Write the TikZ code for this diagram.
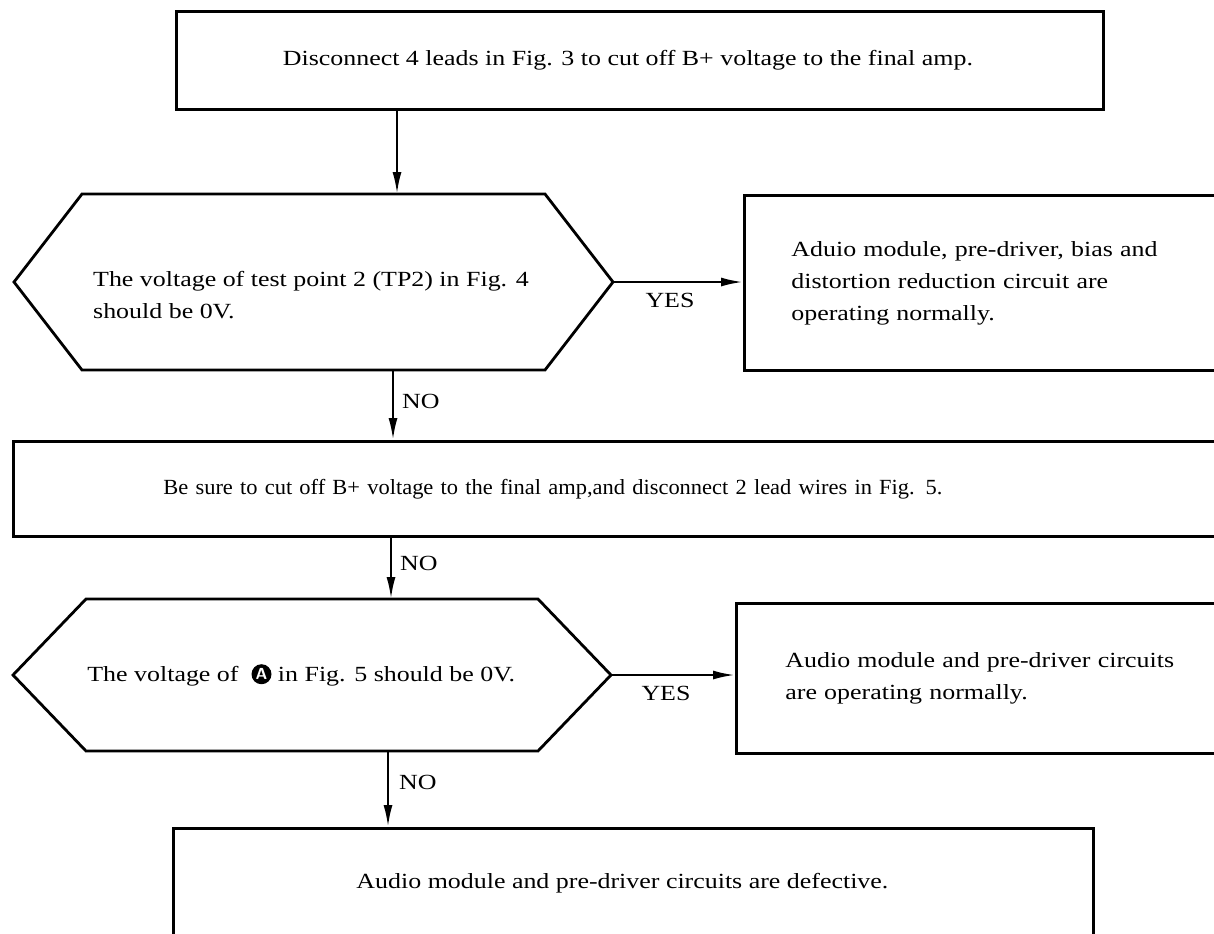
\documentclass[tikz,border=0pt]{standalone}
\usepackage{fontspec}
\setmainfont[FakeStretch=1.2]{Liberation Serif}
\newfontfamily\narrowfont[FakeStretch=1.04]{Liberation Serif}
\usepackage{tikz}
\usetikzlibrary{calc, arrows.meta, positioning}

\newcommand{\markA}{\tikz[baseline=-0.7ex]\node[circle,fill=black,text=white,inner sep=0pt,minimum size=10pt,font=\sffamily\bfseries\footnotesize]{A};}

\begin{document}
\begin{tikzpicture}[->,>={Latex[length=11pt,width=4.5pt]},x=0.5pt,y=-0.5pt,
        line width=1.2pt,font=\fontsize{10.8}{16}\selectfont]
        \tikzstyle{box}=[draw=black,line width=1.4pt,anchor=north west,align=left]
        \tikzstyle{answer}=[inner sep=0pt]
        \useasboundingbox (0,0) rectangle (1214,933);

        % boxes
        \node[box,align=center,minimum width=463.5pt,minimum height=49pt](b1) at (175,10)
            {Disconnect 4 leads in Fig. 3 to cut off B+ voltage to the final amp.\hspace*{12pt}};
        \node[box,inner xsep=23.5pt,text width=193pt,minimum height=87.5pt](b2) at (743,194)
            {Aduio module, pre-driver, bias and\\distortion reduction circuit are\\operating normally.};
        \node[box,inner xsep=75pt,text width=455.5pt,minimum height=47.5pt,
            font=\narrowfont\fontsize{10.8}{16}\selectfont](b3) at (12,440)
            {Be sure to cut off B+ voltage to the final amp,and disconnect 2 lead wires in Fig. 5.};
        \node[box,inner xsep=24.5pt,text width=195pt,minimum height=75pt](b4) at (735,602)
            {Audio module and pre-driver circuits\\are operating normally.};
        \node[box,align=center,minimum width=460pt,minimum height=55pt](b5) at (172,827)
            {Audio module and pre-driver circuits are defective.\hspace*{11pt}};

        % decisions
        \coordinate (d1w) at (14,282);  \coordinate (d1nw) at (82,194);
        \coordinate (d1ne) at (545,194); \coordinate (d1e) at (613,282);
        \coordinate (d1se) at (545,370); \coordinate (d1sw) at (82,370);
        \coordinate (d1n) at (397,194);  \coordinate (d1s) at (393,370);
        \draw[-,line width=1.4pt] (d1w) -- (d1nw) -- (d1ne) -- (d1e) -- (d1se) -- (d1sw) -- cycle;
        \node[anchor=west,align=left,inner sep=0pt](q1) at (92,295)
            {The voltage of test point 2 (TP2) in Fig. 4\\should be 0V.};

        \coordinate (d2w) at (13,675);  \coordinate (d2nw) at (86,599);
        \coordinate (d2ne) at (538,599); \coordinate (d2e) at (611,675);
        \coordinate (d2se) at (538,751); \coordinate (d2sw) at (86,751);
        \coordinate (d2n) at (391,599);  \coordinate (d2s) at (388,751);
        \draw[-,line width=1.4pt] (d2w) -- (d2nw) -- (d2ne) -- (d2e) -- (d2se) -- (d2sw) -- cycle;
        \node[anchor=west,inner sep=0pt](q2) at (87,675)
            {The voltage of \ \markA\ in Fig. 5 should be 0V.};

        % connectors
        \draw (b1.south -| d1n) -- (d1n);
        \draw (d1e) -- (d1e -| b2.west);
        \draw (d1s) -- (d1s |- b3.north);
        \draw (b3.south -| d2n) -- (d2n);
        \draw (d2e) -- (d2e -| b4.west);
        \draw (d2s) -- (d2s |- b5.north);

        % labels
        \node[answer](yes1) at (670,300) {YES};
        \node[answer](yes2) at (666,693) {YES};
        \node[answer,anchor=west](no1) at (401,401) {NO};
        \node[answer,anchor=west](no2) at (399,563) {NO};
        \node[answer,anchor=west](no3) at (398,782) {NO};
\end{tikzpicture}
\end{document}
